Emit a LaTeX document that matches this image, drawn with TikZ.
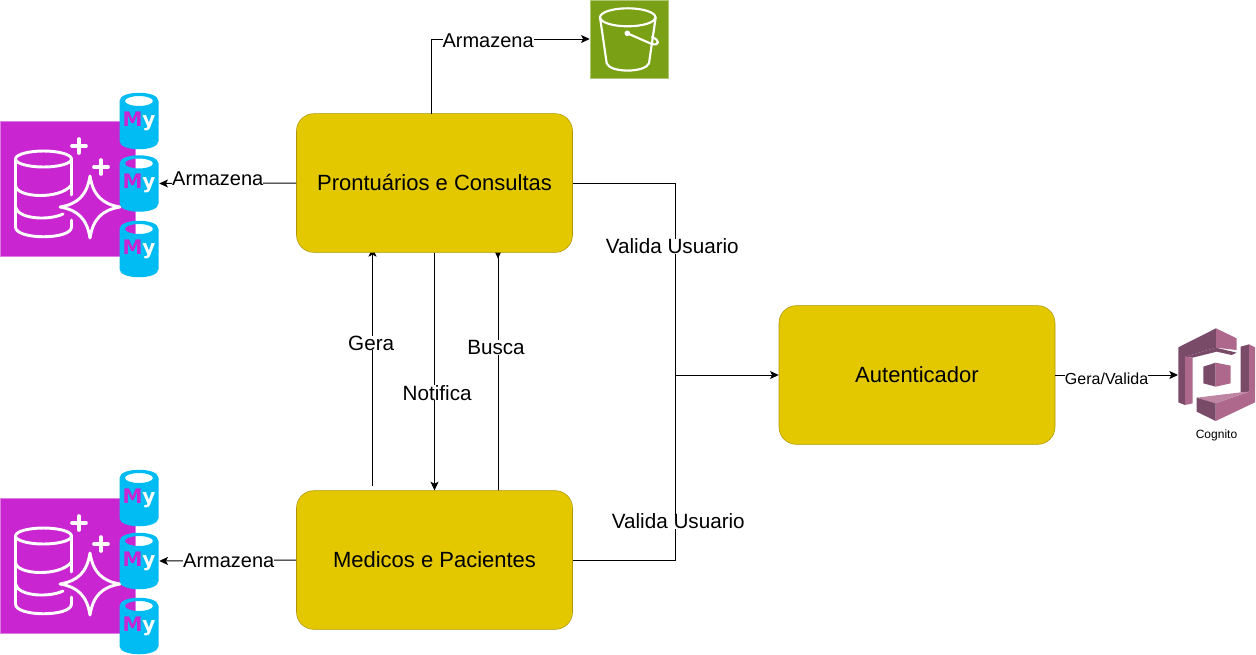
\documentclass[tikz,border=0pt]{standalone}
\usepackage{fontspec}
\setmainfont{Liberation Sans}
\newfontfamily\myfont{DejaVu Sans}
\usetikzlibrary{arrows.meta, backgrounds}
\definecolor{boxfill}{HTML}{E3C800}
\definecolor{boxline}{HTML}{B09500}
\definecolor{aurora}{HTML}{C925D1}
\definecolor{mysqlblue}{HTML}{00BCF2}
\definecolor{bucketgreen}{HTML}{7AA116}
\definecolor{cogdark}{HTML}{7A4A69}
\definecolor{cogmid}{HTML}{AD688B}
\definecolor{coglight}{HTML}{BE86A3}
\tikzstyle{box} = [rectangle, draw = boxline, fill = boxfill, minimum width = 207pt, minimum height = 104pt, rounded corners = 13pt, font = \fontsize{16.5}{20}\selectfont]
\tikzstyle{arrow} = [draw, -{Stealth[length = 6.5pt, width = 6pt, inset = 1.5pt]}, line width = .75pt]
\tikzstyle{lbl} = [fill = white, inner sep = 0pt, font = \fontsize{15.5}{18}\selectfont]
\tikzstyle{lblstore} = [fill = white, inner sep = 0pt, font = \fontsize{15}{18}\selectfont]
\tikzstyle{square} = [rectangle, inner sep = 0pt, minimum size = 101.25pt, fill = aurora, draw = aurora!60]
\tikzstyle{icon} = [draw = white, line width = 2.2pt, line cap = round, line join = round]
\tikzstyle{mysql} = [rectangle, inner sep = 0pt, minimum width = 30pt, minimum height = 42pt, font = \myfont\bfseries\fontsize{15}{15}\selectfont]
% cylinder with a see-through top, then its node
\newcommand{\mysqlnode}[3]{
    \begin{scope}[shift = {(#2, #3)}]
        \fill[mysqlblue, even odd rule] (-19.5, -20) .. controls (-19.5, -31) and (19.5, -31) .. (19.5, -20) -- (19.5, 20) .. controls (19.5, 31) and (-19.5, 31) .. (-19.5, 20) -- cycle (0, -20) ellipse [x radius = 14, y radius = 5];
    \end{scope}
    \node[mysql] (#1) at (#2, #3) {\raisebox{-4.5pt}{\textcolor{aurora}{M}\textcolor{white}{y}}};
}
% database with the star, 377 apart
\newcommand{\dbicon}[1]{
    \begin{scope}[yshift = #1]
        \draw[icon] (43.5, 159) ellipse [x radius = 28, y radius = 8];
        \draw[icon] (15.5, 159) -- (15.5, 227) .. controls (15.5, 240) and (71.5, 240) .. (71.5, 227) -- (71.5, 220);
        \draw[icon] (71.5, 159) -- (71.5, 195);
        \draw[icon] (15.5, 185) .. controls (15.5, 198) and (60, 200) .. (71.5, 185);
        \draw[icon] (15.5, 207) .. controls (18, 219) and (48, 221) .. (63, 214);
        \draw[icon, line width = 2.7pt] (79, 139) -- (79, 153) (72, 146) -- (86, 146);
        \draw[icon, line width = 2.7pt] (101, 160) -- (101, 174) (94, 167) -- (108, 167);
        \draw[icon] (90, 176) .. controls (93, 195) and (102, 204) .. (120, 207) .. controls (102, 210) and (93, 219) .. (90, 238) .. controls (87, 219) and (78, 210) .. (60, 207) .. controls (78, 204) and (87, 195) .. (90, 176) -- cycle;
    \end{scope}
}
\begin{document}
\begin{tikzpicture}[x = .75pt, y = -.75pt]
    \useasboundingbox (0, 0) rectangle (1256, 654);

    \node[square] (aurora1) at (67.5, 188.5) {};
    \node[square] (aurora2) at (67.5, 565.5) {};
    \dbicon{0pt}
    \dbicon{-282.75pt}
    \mysqlnode{my11}{139}{121}
    \mysqlnode{my12}{139}{183.5}
    \mysqlnode{my13}{139}{249}
    \mysqlnode{my21}{139}{498}
    \mysqlnode{my22}{139}{561}
    \mysqlnode{my23}{139}{626}

    \node[box] (pront) at (434.5, 183) {Prontuários e Consultas};
    \node[box] (med) at (434.5, 560) {Medicos e Pacientes};
    \node[box] (auth) at (917, 375) {Autenticador};

    % bucket
    \node[rectangle, inner sep = 0pt, minimum size = 58.5pt, fill = bucketgreen, draw = bucketgreen!60] (bucket) at (629, 39) {};
    \draw[icon, line width = 1.6pt] (627.7, 17.3) ellipse [x radius = 27.7, y radius = 9];
    \draw[icon, line width = 1.6pt] (600, 17.3) -- (606.7, 63.3) .. controls (610, 73) and (645, 73) .. (649, 63.3) -- (655.7, 17.3);
    \draw[icon, line width = 1.6pt] (627.3, 33.3) -- (651.7, 44) .. controls (660, 46) and (660, 40) .. (652, 37);
    \fill[white] (627.3, 33.3) circle [radius = 2.8];

    % cognito
    \node[rectangle, inner sep = 0pt, minimum width = 58pt, minimum height = 70pt] (cognito) at (1178, 375) [anchor = west] {};
    \begin{scope}[shift = {(1050, 315)}, x = .25pt, y = -.25pt]
        \fill[cogdark] (385, 97) -- (498, 40) -- (498, 98) -- (405, 125) -- (405, 270) -- (385, 262) -- cycle;
        \fill[cogmid] (498, 40) -- (560, 70) -- (560, 105) -- (498, 98) -- cycle;
        \fill[cogdark] (405, 125) -- (498, 98) -- (560, 113) -- (545, 120) -- (500, 110) -- (428, 128) -- cycle;
        \fill[cogmid] (405, 125) -- (428, 128) -- (428, 265) -- (405, 270) -- cycle;
        \fill[cogdark] (572, 95) -- (597, 88) -- (597, 230) -- (572, 232) -- cycle;
        \fill[cogmid] (597, 88) -- (615, 97) -- (615, 262) -- (497, 318) -- (497, 265) -- (597, 230) -- cycle;
        \fill[coglight] (440, 248) -- (572, 232) -- (597, 230) -- (497, 265) -- cycle;
        \fill[cogdark] (440, 248) -- (497, 265) -- (497, 318) -- (440, 290) -- cycle;
        \fill[cogdark] (460, 155) -- (497, 143) -- (497, 215) -- (460, 205) -- cycle;
        \fill[cogmid] (497, 143) -- (542, 152) -- (542, 205) -- (497, 215) -- cycle;
    \end{scope}
    \node[font = \fontsize{9}{11}\selectfont, inner sep = 0pt] (coglabel) at (1216.5, 435) {Cognito};

    \coordinate (corner1) at (675, 375);
    \coordinate (gerastart) at (372.5, 486);
    \coordinate (buscastart) at (498, 491);
    \coordinate (topstart) at (431, 114);

    \path[arrow] (topstart) |- (bucket.west) node[lblstore, pos = .68, yshift = -1.5pt] {Armazena};
    \path[arrow] (pront.west) -- (my12.east) node[lblstore, midway, yshift = 3.5pt, xshift = -7.5pt] {Armazena};
    \path[arrow] (med.west) -- (my22.east) node[lblstore, midway, xshift = .75pt] {Armazena};
    \path[arrow] (pront.south) -- (med.north) node[lbl, pos = .59, xshift = 2pt] {Notifica};
    \begin{scope}[on background layer]
        \path[arrow] (gerastart) -- ([yshift = 3.5pt] gerastart |- pront.south) node[lbl, pos = .6, xshift = -1pt] {Gera};
        \path[draw, line width = .75pt, -{Stealth[length = 6.5pt, width = 6pt, inset = 1.5pt, reversed]}] (buscastart) -- ([yshift = 2pt] buscastart |- pront.south) node[lbl, pos = .595, xshift = -1.5pt] {Busca};
    \end{scope}
    \draw[line width = .75pt] (pront.east) -| (corner1) node[lbl, pos = .665, xshift = -2pt] {Valida Usuario};
    \draw[line width = .75pt] (med.east) -| (corner1) node[lbl, pos = .605, xshift = 2.5pt] {Valida Usuario};
    \path[arrow] (corner1) -- (auth.west);
    \path[arrow] (auth.east) -- (cognito.west) node[midway, fill = white, inner sep = 0pt, yshift = -3pt, xshift = -7.5pt, font = \fontsize{12}{14}\selectfont] {Gera/Valida};
\end{tikzpicture}
\end{document}
